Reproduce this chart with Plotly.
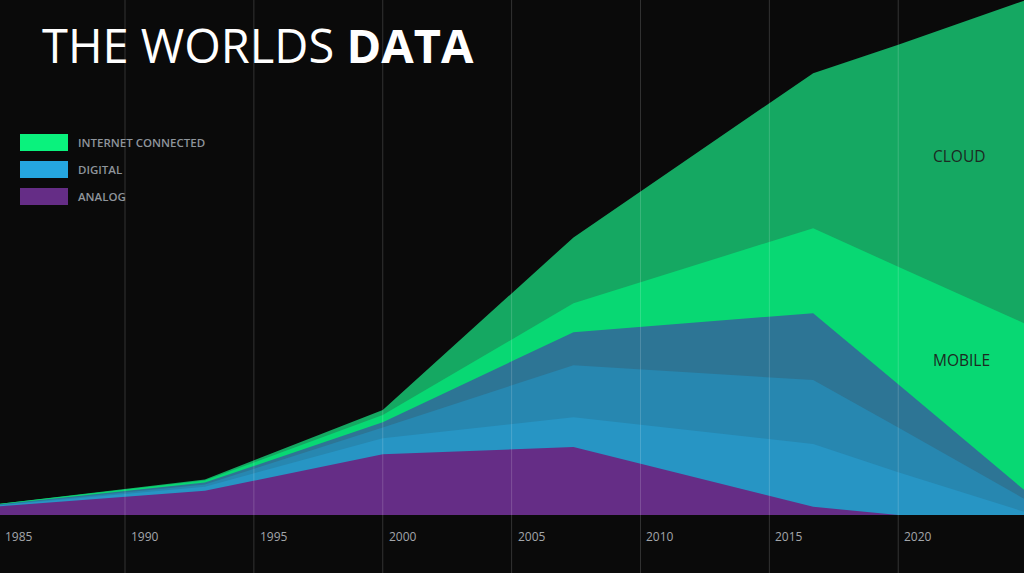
import plotly.graph_objects as go
import numpy as np

# ---- data ----
years = [1985.15, 1993.1, 2000.0, 2007.4, 2016.7, 2020.0, 2024.9]
analog = [1.7, 4.7, 11.8, 13.2, 1.6, 0.0, 0.0]
digital_low = [0.2, 0.8, 3.1, 5.8, 12.2, 8.3, 0.6]
digital_mid = [0.1, 0.4, 2.1, 10.1, 12.4, 8.7, 2.5]
digital_high = [0.1, 0.4, 1.0, 6.4, 13.0, 8.4, 1.7]
mobile = [0.1, 0.4, 1.4, 5.6, 16.5, 22.8, 32.4]
cloud = [0.0, 0.2, 1.0, 12.8, 30.1, 43.1, 62.7]

tick_years = [1985, 1990, 1995, 2000, 2005, 2010, 2015, 2020]
legend_labels = ["INTERNET CONNECTED", "DIGITAL", "ANALOG"]
legend_colors = ["#0af27d", "#25a6df", "#652d86"]

W, H = 1024, 573
X_RANGE = [1985.15, 2024.88]
Y_RANGE = [-11.26, 100]
BG = "#0a0a0a"

def px(x):
    return x / W

def py(y):
    return 1 - y / H

series = [
    ("Analog", analog, "#652d86"),
    ("Digital (low)", digital_low, "#2795c4"),
    ("Digital (mid)", digital_mid, "#2787b0"),
    ("Digital (high)", digital_high, "#2d7595"),
    ("Mobile", mobile, "#08d873"),
    ("Cloud", cloud, "#15a862"),
]

# cumulative stack tops; draw from the top layer down so that fills overlap (no seams)
cum = np.cumsum(np.array([s[1] for s in series]), axis=0)

fig = go.Figure()
for i in range(len(series) - 1, -1, -1):
    name, _, col = series[i]
    fig.add_trace(go.Scatter(
        x=years, y=cum[i], name=name, mode="none",
        fill="tozeroy", fillcolor=col, hoverinfo="skip", showlegend=False,
    ))

shapes = []
for yr in tick_years:
    if X_RANGE[0] <= yr <= X_RANGE[1]:
        shapes.append(dict(type="line", xref="x", yref="paper", x0=yr, x1=yr,
                           y0=0, y1=1, layer="above",
                           line=dict(color="rgba(255,255,255,0.17)", width=1)))

annotations = []
for yr in tick_years:
    xv = max(yr, X_RANGE[0])
    annotations.append(dict(
        x=xv, xref="x", y=py(536), yref="paper", text=str(yr),
        showarrow=False, xanchor="left", yanchor="middle",
        xshift=4 if yr >= X_RANGE[0] else 3,
        font=dict(family="Open Sans", size=12, color="#a3a6aa")))

# legend (drawn as boxes + text)
for i, (lab, col) in enumerate(zip(legend_labels, legend_colors)):
    top = 134 + i * 27
    shapes.append(dict(type="rect", xref="paper", yref="paper",
                       x0=px(20), x1=px(68), y0=py(top + 17), y1=py(top),
                       fillcolor=col, line=dict(width=0), layer="above"))
    annotations.append(dict(x=px(76), y=py(top + 8.5), xref="paper", yref="paper",
                            text=lab, showarrow=False, xanchor="left", yanchor="middle",
                            font=dict(family="Open Sans", size=11.5, color="#8f959c",
                                      weight=600)))

annotations.append(dict(x=px(40), y=py(45), xref="paper", yref="paper",
                        text="THE WORLDS <b>DATA</b>", showarrow=False,
                        xanchor="left", yanchor="middle",
                        font=dict(family="Open Sans", size=47, color="#ffffff")))
annotations.append(dict(x=px(959), y=py(156), xref="paper", yref="paper",
                        text="CLOUD", showarrow=False, xanchor="center", yanchor="middle",
                        font=dict(family="Open Sans", size=15.5, color="#1c2a22")))
annotations.append(dict(x=px(961), y=py(360), xref="paper", yref="paper",
                        text="MOBILE", showarrow=False, xanchor="center", yanchor="middle",
                        font=dict(family="Open Sans", size=15.5, color="#1c2a22")))

fig.update_layout(
    width=W, height=H,
    margin=dict(l=0, r=0, t=0, b=0),
    paper_bgcolor=BG, plot_bgcolor=BG,
    showlegend=False,
    xaxis=dict(range=X_RANGE, showgrid=False, zeroline=False, showticklabels=False,
               showline=False, fixedrange=True),
    yaxis=dict(range=Y_RANGE, showgrid=False, zeroline=False, showticklabels=False,
               showline=False, fixedrange=True),
    shapes=shapes,
    annotations=annotations,
)

fig.write_html("out.html", config={"displayModeBar": False},
               post_script="document.body.style.margin='0';document.body.style.background='#0a0a0a';")
